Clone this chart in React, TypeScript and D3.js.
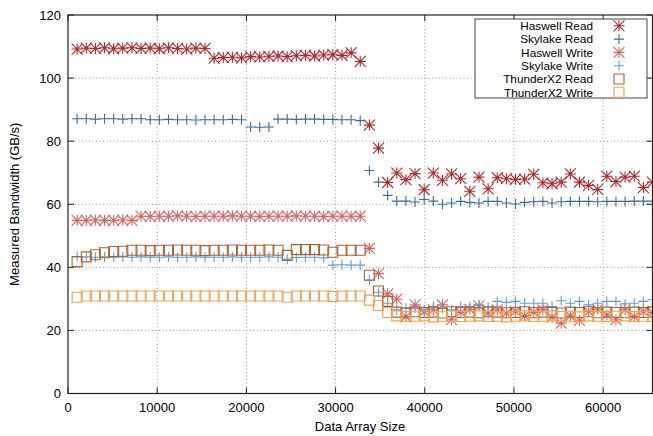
import React, { useEffect, useRef } from 'react'
import * as d3 from 'd3'

const W = 653
const H = 436
const margin = { top: 15, right: 0.5, bottom: 42.5, left: 68 }

// array sizes sampled every 1024 elements
const sizes = [
  1024, 2048, 3072, 4096, 5120, 6144, 7168, 8192, 9216, 10240, 11264, 12288, 13312, 14336, 15360, 16384,
  17408, 18432, 19456, 20480, 21504, 22528, 23552, 24576, 25600, 26624, 27648, 28672, 29696, 30720, 31744, 32768,
  33792, 34816, 35840, 36864, 37888, 38912, 39936, 40960, 41984, 43008, 44032, 45056, 46080, 47104, 48128, 49152,
  50176, 51200, 52224, 53248, 54272, 55296, 56320, 57344, 58368, 59392, 60416, 61440, 62464, 63488, 64512, 65536,
]

const haswellRead = [
  109.2, 109.5, 109.4, 109.6, 109.3, 109.5, 109.6, 109.4, 109.5, 109.3, 109.6, 109.4, 109.2, 109.5, 109.4,
  106.3, 106.5, 106.6, 106.4, 106.8, 106.7, 106.9, 107.0, 106.8, 107.1, 107.2, 107.0, 107.3, 107.4, 107.2,
  108.0, 105.3, 85.1, 77.8,
  66.9, 69.9, 67.8, 69.7, 64.6, 69.9, 67.6, 69.6, 68.1, 64.1, 68.6, 64.9, 68.4, 68.1, 67.9, 68.0,
  69.5, 66.8, 66.5, 67.0, 69.6, 67.0, 66.0, 64.7, 68.9, 67.2, 68.6, 68.9, 65.3, 67.0,
]

const skylakeRead = [
  87.1, 87.1, 87.0, 87.1, 87.1, 87.0, 87.1, 87.1, 86.8, 86.8, 86.9, 86.8, 86.8, 86.7, 86.8, 86.8,
  86.8, 86.9, 86.8, 84.5, 84.4, 84.5, 87.0, 87.0, 86.9, 87.0, 87.0, 86.9, 86.9, 86.8, 86.8, 86.5,
  70.7, 67.0, 62.8,
  61.0, 61.0, 60.7, 61.5, 61.0, 60.0, 60.4, 60.9, 60.6, 60.4, 60.9, 60.9, 60.4, 60.1, 60.6,
  60.8, 60.9, 60.4, 60.8, 60.9, 60.9, 60.9, 60.8, 60.9, 60.9, 60.9, 61.0, 61.0, 61.0,
]

const haswellWrite = [
  54.9, 54.9, 55.0, 54.9, 54.9, 55.0, 54.9,
  56.2, 56.1, 56.2, 56.2, 56.3, 56.2, 56.1, 56.2, 56.2, 56.2, 56.3, 56.2, 56.2, 56.1, 56.2, 56.2,
  56.2, 56.3, 56.2, 56.2, 56.1, 56.2, 56.2, 56.2, 56.2,
  46.0, 38.0, 31.6, 29.9,
  24.4, 28.1, 26.0, 26.5, 28.1, 23.4, 25.7, 26.7, 27.8, 25.5, 26.5, 25.5, 26.0, 24.6,
  25.7, 26.5, 24.2, 22.3, 24.6, 23.2, 26.0, 26.7, 24.9, 23.4, 26.5, 24.4, 26.0, 25.7,
]

const skylakeWrite = [
  43.4, 43.3, 43.2, 43.3, 43.2, 43.3, 43.2, 43.3, 43.2, 43.2, 43.3, 43.2, 43.2, 43.3, 43.2, 43.2,
  43.2, 43.3, 43.2, 43.2, 43.2, 43.3, 43.2, 42.6, 43.1, 43.2, 43.2, 43.0, 40.7, 40.8, 40.7, 40.7,
  36.0, 32.1, 28.6, 26.5,
  27.0, 27.0, 26.5, 27.6, 27.0, 26.5, 27.6, 27.6, 28.1, 27.4, 29.2, 28.9, 29.2, 28.6,
  28.6, 28.6, 27.6, 29.4, 28.6, 29.2, 28.1, 28.6, 29.2, 29.2, 28.4, 28.6, 29.2, 29.7,
]

const thunderRead = [
  41.8, 43.3, 44.0, 44.6, 45.0, 45.1, 45.4, 45.4, 45.3, 45.4, 45.4, 45.5, 45.4, 45.4, 45.3, 45.4,
  45.4, 45.5, 45.4, 45.4, 45.4, 45.5, 45.4, 43.8, 45.6, 45.6, 45.6, 45.5, 44.8, 45.4, 45.4, 45.4,
  37.5, 32.5, 29.2,
  25.8, 25.6, 25.9, 25.7, 25.8, 25.5, 25.9, 25.7, 25.8, 25.6, 25.9, 25.8, 25.6, 25.7, 25.9,
  25.6, 25.8, 25.7, 25.5, 25.8, 25.7, 25.9, 25.6, 25.8, 25.7, 25.6, 25.8, 25.7, 25.8,
]

const thunderWrite = [
  30.5, 30.9, 30.9, 30.9, 30.9, 30.9, 30.9, 30.9, 30.9, 30.9, 30.9, 30.9, 30.9, 30.9, 30.9, 30.9,
  30.9, 30.9, 30.9, 30.9, 30.9, 30.9, 30.9, 30.5, 30.9, 30.9, 30.9, 30.9, 30.8, 30.9, 30.9, 30.9,
  29.6, 27.9, 25.7,
  24.6, 24.4, 24.5, 24.6, 24.3, 24.5, 24.6, 24.4, 24.5, 24.6, 24.4, 24.5, 24.3, 24.5, 24.6,
  24.4, 24.5, 24.6, 24.4, 24.5, 24.3, 24.6, 24.5, 24.4, 24.5, 24.6, 24.4, 24.5, 24.5,
]

const series = [
  { name: 'Haswell Read', values: haswellRead, shape: 'star', color: '#b3282c' },
  { name: 'Skylake Read', values: skylakeRead, shape: 'plus', color: '#3d6b9e' },
  { name: 'Haswell Write', values: haswellWrite, shape: 'star', color: '#e0625f' },
  { name: 'Skylake Write', values: skylakeWrite, shape: 'plus', color: '#5f9dd8' },
  { name: 'ThunderX2 Read', values: thunderRead, shape: 'box', color: '#a8662e' },
  { name: 'ThunderX2 Write', values: thunderWrite, shape: 'box', color: '#f2a14e' },
]

const xTicks = [0, 10000, 20000, 30000, 40000, 50000, 60000]
const yTicks = [0, 20, 40, 60, 80, 100, 120]

const font = '"Liberation Sans", Arial, Helvetica, sans-serif'

function markerPath(shape: string): string {
  if (shape === 'star') {
    const r = 5.5, d = 5.5
    return `M${-r},0H${r}M0,${-r}V${r}M${-d},${-d}L${d},${d}M${-d},${d}L${d},${-d}`
  }
  if (shape === 'plus') {
    const r = 5
    return `M${-r},0H${r}M0,${-r}V${r}`
  }
  const r = 5
  return `M${-r},${-r}H${r}V${r}H${-r}Z`
}

export default function App() {
  const ref = useRef<SVGSVGElement>(null)

  useEffect(() => {
    const svg = d3.select(ref.current)
    svg.selectAll('*').remove()

    const left = margin.left
    const right = W - margin.right
    const top = margin.top
    const bottom = H - margin.bottom

    const x = d3.scaleLinear().domain([0, 65536]).range([left, right])
    const y = d3.scaleLinear().domain([0, 120]).range([bottom, top])

    svg.append('rect').attr('width', W).attr('height', H).attr('fill', '#fff')

    const g = svg.append('g')

    // grid
    g.selectAll('.gx')
      .data(xTicks.filter(t => t > 0))
      .enter().append('line')
      .attr('x1', d => x(d)).attr('x2', d => x(d))
      .attr('y1', top).attr('y2', bottom)
      .attr('stroke', '#9a9a9a').attr('stroke-width', 1)
      .attr('stroke-dasharray', '1,2.5')

    g.selectAll('.gy')
      .data(yTicks.filter(t => t > 0 && t < 120))
      .enter().append('line')
      .attr('x1', left).attr('x2', right)
      .attr('y1', d => y(d)).attr('y2', d => y(d))
      .attr('stroke', '#9a9a9a').attr('stroke-width', 1)
      .attr('stroke-dasharray', '1,2.5')

    // ticks (inward, mirrored)
    xTicks.forEach(t => {
      g.append('line').attr('x1', x(t)).attr('x2', x(t)).attr('y1', bottom).attr('y2', bottom - 6)
        .attr('stroke', '#222')
      g.append('line').attr('x1', x(t)).attr('x2', x(t)).attr('y1', top).attr('y2', top + 6)
        .attr('stroke', '#222')
    })
    yTicks.forEach(t => {
      g.append('line').attr('x1', left).attr('x2', left + 6).attr('y1', y(t)).attr('y2', y(t))
        .attr('stroke', '#222')
      g.append('line').attr('x1', right).attr('x2', right - 6).attr('y1', y(t)).attr('y2', y(t))
        .attr('stroke', '#222')
    })

    // tick labels
    g.selectAll('.xl')
      .data(xTicks)
      .enter().append('text')
      .attr('x', d => x(d))
      .attr('y', bottom + 18)
      .attr('text-anchor', 'middle')
      .attr('font-family', font).attr('font-size', 13)
      .text(d => String(d))

    g.selectAll('.yl')
      .data(yTicks)
      .enter().append('text')
      .attr('x', left - 7)
      .attr('y', d => y(d) + 4.5)
      .attr('text-anchor', 'end')
      .attr('font-family', font).attr('font-size', 13)
      .text(d => String(d))

    // axis titles
    g.append('text')
      .attr('x', 360).attr('y', 431)
      .attr('text-anchor', 'middle')
      .attr('font-family', font).attr('font-size', 13)
      .text('Data Array Size')

    g.append('text')
      .attr('transform', `translate(19, ${(top + bottom) / 2}) rotate(-90)`)
      .attr('text-anchor', 'middle')
      .attr('font-family', font).attr('font-size', 13)
      .text('Measured Bandwidth (GB/s)')

    // points
    series.forEach(s => {
      g.append('g')
        .selectAll('path')
        .data(s.values)
        .enter().append('path')
        .attr('d', markerPath(s.shape))
        .attr('transform', (d, i) => `translate(${x(sizes[i])},${y(d)})`)
        .attr('fill', 'none')
        .attr('stroke', s.color)
        .attr('stroke-width', 1.1)
    })

    // frame
    g.append('rect')
      .attr('x', left).attr('y', top)
      .attr('width', right - left).attr('height', bottom - top)
      .attr('fill', 'none').attr('stroke', '#222').attr('stroke-width', 1.2)

    // legend
    const lg = g.append('g')
    lg.append('rect')
      .attr('x', 475).attr('y', 19).attr('width', 172).attr('height', 79)
      .attr('fill', '#fff').attr('stroke', '#444').attr('stroke-width', 1)
    series.forEach((s, i) => {
      const cy = 25.8 + i * 13.3
      lg.append('text')
        .attr('x', 593).attr('y', cy + 4.2)
        .attr('text-anchor', 'end')
        .attr('font-family', font).attr('font-size', 11.8)
        .text(s.name)
      lg.append('path')
        .attr('d', markerPath(s.shape))
        .attr('transform', `translate(619,${cy})`)
        .attr('fill', 'none')
        .attr('stroke', s.color)
        .attr('stroke-width', 1.1)
    })
  }, [])

  return (
    <svg
      ref={ref}
      width={W}
      height={H}
      style={{ position: 'absolute', left: 0, top: 0, display: 'block' }}
    />
  )
}
